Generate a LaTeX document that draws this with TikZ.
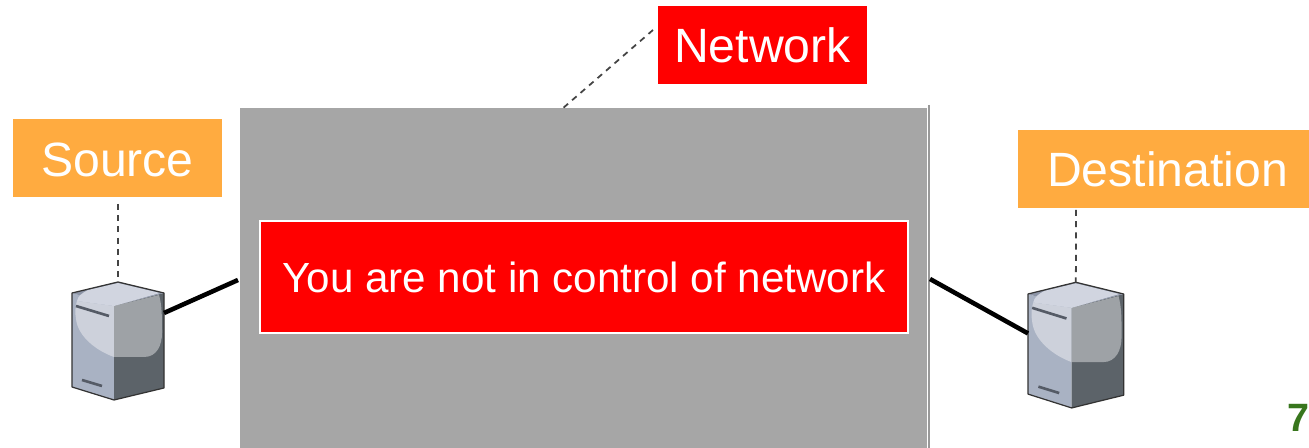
\documentclass[tikz,border=0pt]{standalone}
\usepackage{fontspec}
\setmainfont{Liberation Sans}
\usepackage{xcolor}
\usetikzlibrary{math}
\definecolor{myorange}{RGB}{255,171,64}
\definecolor{myred}{RGB}{255,0,0}
\definecolor{mygrey}{RGB}{166,166,166}
\definecolor{mygreen}{RGB}{56,118,29}
\definecolor{myline}{RGB}{68,68,68}
\definecolor{faceleft}{RGB}{169,178,195}
\definecolor{faceright}{RGB}{92,99,105}
\definecolor{facetop}{RGB}{140,148,166}
\definecolor{paleleft}{RGB}{205,209,219}
\definecolor{paleright}{RGB}{158,162,166}
\definecolor{paletop}{RGB}{209,213,224}
\definecolor{barcol}{RGB}{85,91,102}
\tikzset{
  label/.style={fill=#1,text=white,inner sep=0pt,minimum height=1.56cm},
  link/.style={line width=2.6pt,black},
  lead/.style={line width=1pt,myline,dash pattern=on 3.4pt off 3pt},
  server/.pic={
    \fill[faceleft] (0,0) -- (42,13) -- (42,107) -- (0,94) -- cycle;
    \fill[faceright] (42,13) -- (92,0) -- (92,95) -- (42,107) -- cycle;
    \fill[facetop] (0,0) -- (46,-11) -- (92,0) -- (42,13) -- cycle;
    %highlight
    \fill[paleleft] (5,8) .. controls (3,14) and (3,20) .. (4,26) .. controls (6,44) and (25,58) .. (42,64) -- (42,13) -- cycle;
    \fill[paleright] (42,13) -- (42,64) -- (72,64) .. controls (85,64) and (90,52) .. (90,40) .. controls (90,24) and (90,12) .. (87,2) -- cycle;
    \fill[paletop] (5,8) .. controls (6,3) and (10,0) .. (16,-3) -- (46,-10) -- (88,0) -- (42,13) -- cycle;
    %bars
    \draw[barcol,line width=1.5pt] (4,13) -- (37,23);
    \draw[barcol,line width=1.5pt] (10,87) -- (30,93);
    %outline
    \draw[black!80,line width=0.7pt,line join=round] (0,0) -- (46,-11) -- (92,0) -- (92,95) -- (42,107) -- (0,94) -- cycle;
    \coordinate (-top) at (46,-11);
    \coordinate (-left) at (0,37);
    \coordinate (-right) at (92,20);
  }
}
\begin{document}
\begin{tikzpicture}[x=0.02cm,y=-0.02cm]
\useasboundingbox (0,0) rectangle (1309,448);

%network
\node[fill=mygrey,inner sep=0pt,minimum width=13.74cm,minimum height=6.8cm] (cloud) at (583.5,278) {};
\draw[black!40,line width=0.6pt] (929,105) -- (929,448);
\node[label=myred,draw=white,line width=0.8pt,minimum width=12.96cm,minimum height=2.24cm,font=\fontsize{24}{28}\selectfont] (warn) at (584,277) {You are not in control of network};

%labels
\node[label=myred,minimum width=4.18cm,font=\fontsize{27.4}{32}\selectfont] (network) at (762.5,45) {Network};
\node[label=myorange,minimum width=4.18cm,text height=21.6pt,text depth=0pt,font=\fontsize{27.4}{32}\selectfont] (source) at (117.5,158) {Source};
\node[label=myorange,minimum width=5.82cm,font=\fontsize{27.4}{32}\selectfont] (dest) at (1163.5,169) {\hspace*{0.16cm}Destination};
\node[text=mygreen,inner sep=0pt,anchor=base west,font=\fontsize{22.5}{28}\selectfont\bfseries] (pagenum) at (1287,432) {7};

%servers
\pic (srcsrv) at (72,293) {server};
\pic[xscale=1.04,yscale=1.065] (dstsrv) at (1028,294) {server};

%connectors
\coordinate (netleft) at (238,280);
\coordinate (netright) at (930,279);
\draw[link] (srcsrv-right) -- (netleft);
\draw[link] (netright) -- (dstsrv-left);

\coordinate (srcstart) at (118,204);
\coordinate (dststart) at (1076,210);
\coordinate (netstart) at (653,30);
\coordinate (netend) at (562,109);
\draw[lead] (srcstart) -- (srcsrv-top);
\draw[lead] (dststart) -- (dstsrv-top);
\draw[lead] (netstart) -- (netend);
\end{tikzpicture}
\end{document}
